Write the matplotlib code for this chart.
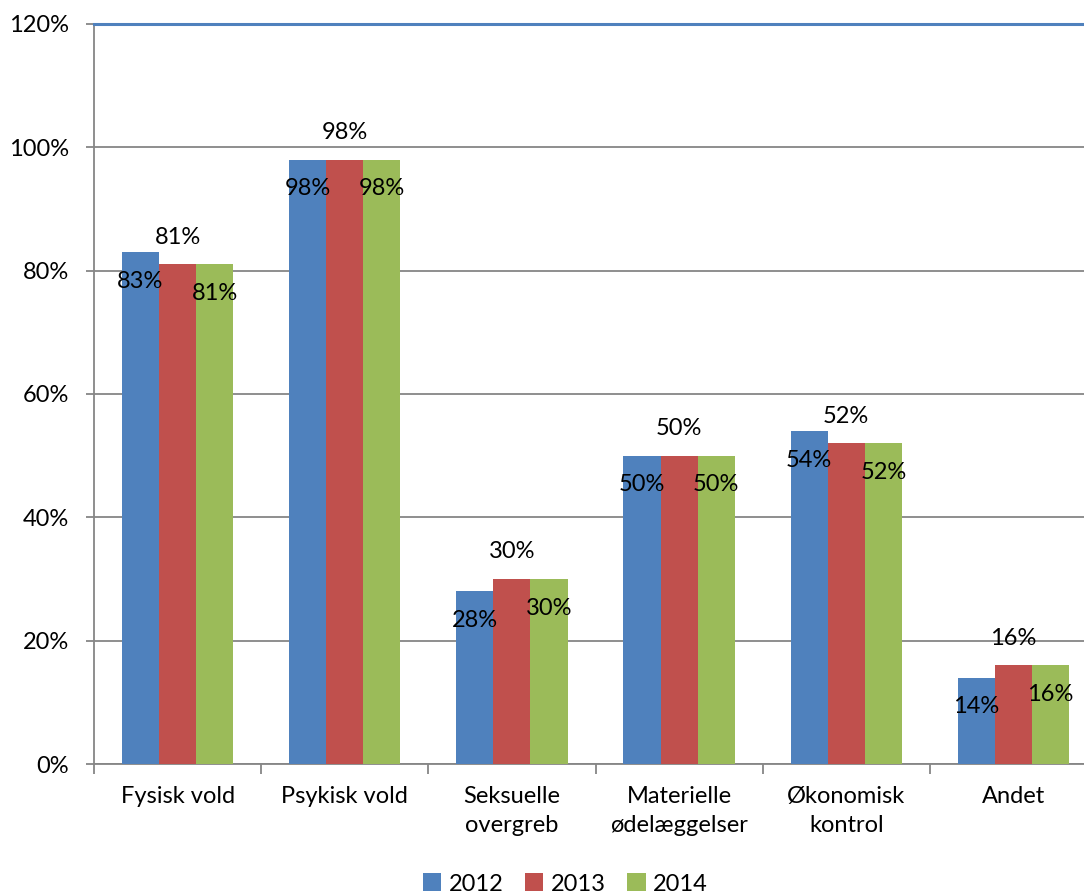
import matplotlib
matplotlib.use("Agg")
import matplotlib.pyplot as plt
import numpy as np
from matplotlib.ticker import FixedLocator, NullFormatter, PercentFormatter

categories = ["Fysisk vold", "Psykisk vold", "Seksuelle\novergreb",
              "Materielle\nødelæggelser", "Økonomisk\nkontrol", "Andet"]
years = ["2012", "2013", "2014"]
values_2012 = [83, 98, 28, 50, 54, 14]
values_2013 = [81, 98, 30, 50, 52, 16]
values_2014 = [81, 98, 30, 50, 52, 16]
colors = ["#4F81BD", "#C0504D", "#9BBB59"]

plt.rcParams["font.family"] = ["Lato", "DejaVu Sans"]
FS = 17

fig = plt.figure(figsize=(10.84, 8.96), dpi=100)
ax = fig.add_axes([94 / 1084, (896 - 764) / 896, (1097 - 94) / 1084, (764 - 24) / 896])

x = np.arange(len(categories))
width = 0.222
series = [values_2012, values_2013, values_2014]
offsets = [-21, 19.5, -21]
for i, (vals, col, yr) in enumerate(zip(series, colors, years)):
    pos = x + (i - 1) * width
    ax.bar(pos, vals, width=width, color=col, label=yr, zorder=3)
    for px, v in zip(pos, vals):
        ax.annotate(f"{v}%", (px, v), xytext=(0, offsets[i]), textcoords="offset points",
                    ha="center", va="center", fontsize=FS, color="black", zorder=5)

ax.set_xlim(-0.5, len(categories) - 0.5)
ax.set_ylim(0, 120)
ax.set_yticks(np.arange(0, 121, 20))
ax.yaxis.set_major_formatter(PercentFormatter(decimals=0))
ax.tick_params(axis="y", labelsize=FS, length=6, color="#868686", width=1.3, pad=12)
ax.grid(axis="y", color="#868686", linewidth=1.3, zorder=0)
ax.axhline(120, color="#4F81BD", linewidth=2.2, zorder=4, clip_on=False)

ax.xaxis.set_major_locator(FixedLocator(np.arange(-0.5, len(categories), 1.0)))
ax.xaxis.set_major_formatter(NullFormatter())
ax.xaxis.set_minor_locator(FixedLocator(x))
ax.set_xticklabels(categories, minor=True)
ax.tick_params(axis="x", which="major", length=7, color="#868686", width=1.3)
ax.tick_params(axis="x", which="minor", length=0, labelsize=FS, pad=16)
for lab in ax.get_xticklabels(minor=True):
    lab.set_linespacing(1.45)

for side in ["top", "right"]:
    ax.spines[side].set_visible(False)
for side in ["left", "bottom"]:
    ax.spines[side].set_color("#868686")
    ax.spines[side].set_linewidth(1.3)

handles, labels = ax.get_legend_handles_labels()
fig.legend(handles, labels, loc="center", bbox_to_anchor=(565 / 1084, 1 - 884 / 896),
           ncol=3, frameon=False, fontsize=FS, handlelength=0.8, handleheight=0.8,
           handletextpad=0.3, columnspacing=0.9)

fig.savefig("out.png", dpi=100)
